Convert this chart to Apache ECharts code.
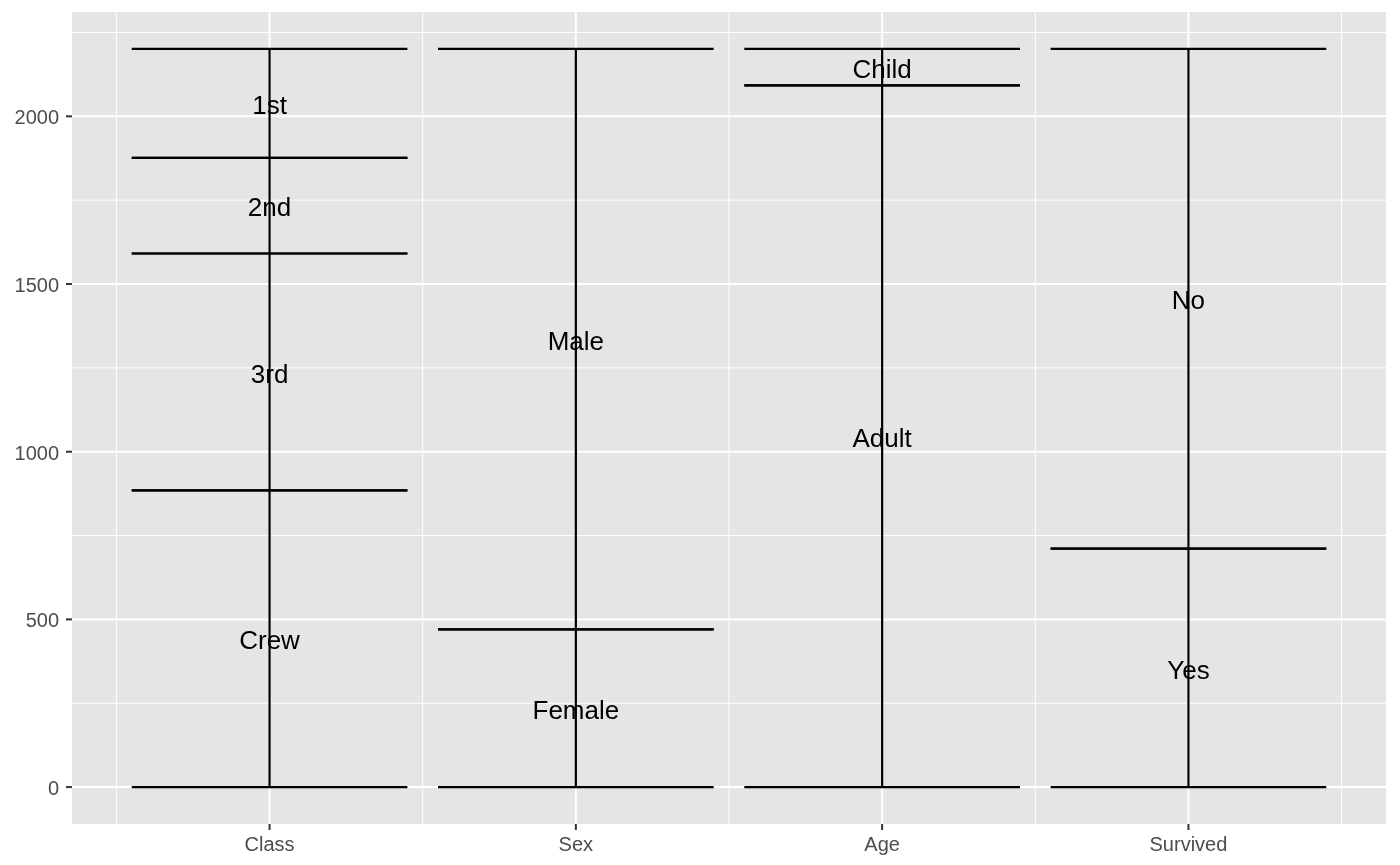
<!DOCTYPE html>
<html>
<head>
<meta charset="utf-8">
<script src="https://cdn.jsdelivr.net/npm/echarts@6/dist/echarts.min.js"></script>
<style>html,body{margin:0;padding:0;background:#fff}#c{width:1400px;height:865px}</style>
</head>
<body>
<div id="c"></div>
<script>
const categories = ['Class', 'Sex', 'Age', 'Survived'];
const classLevels = ['Crew', '3rd', '2nd', '1st'];
const classCounts = [885, 706, 285, 325];
const sexLevels = ['Female', 'Male'];
const sexCounts = [470, 1731];
const ageLevels = ['Adult', 'Child'];
const ageCounts = [2092, 109];
const survivedLevels = ['Yes', 'No'];
const survivedCounts = [711, 1490];
const yTicks = [0, 500, 1000, 1500, 2000];
const yMinorTicks = [250, 750, 1250, 1750, 2250];
const xMinorTicks = [0.5, 1.5, 2.5, 3.5, 4.5];

const FONT = '"Liberation Sans", Arial, Helvetica, sans-serif';
const HALF = 0.45;
const levelsByAxis = [classLevels, sexLevels, ageLevels, survivedLevels];
const countsByAxis = [classCounts, sexCounts, ageCounts, survivedCounts];

const strata = [];
levelsByAxis.forEach((levels, i) => {
  let acc = 0;
  levels.forEach((lab, j) => {
    const lo = acc; acc += countsByAxis[i][j];
    strata.push({ value: [i + 1, lo, acc], label: lab });
  });
});

const chart = echarts.init(document.getElementById('c'), null, { renderer: 'canvas' });

function line(p1, p2, color, w) {
  return { type: 'line', shape: { x1: p1[0], y1: p1[1], x2: p2[0], y2: p2[1] },
    style: { stroke: color, lineWidth: w, lineCap: 'butt' }, silent: true };
}

const xMin = 0.355, xMax = 4.645, yMin = -110.05, yMax = 2311.05;

chart.setOption({
  animation: false,
  grid: { left: 72, right: 14, top: 12, bottom: 41, show: true, backgroundColor: '#E5E5E5', borderWidth: 0 },
  xAxis: { type: 'value', min: xMin, max: xMax, show: false },
  yAxis: { type: 'value', min: yMin, max: yMax, show: false },
  series: [
    {
      type: 'custom', coordinateSystem: 'cartesian2d', clip: true, silent: true,
      data: [[1, 0]],
      renderItem: function (params, api) {
        const ch = [];
        yMinorTicks.forEach(v => ch.push(line(api.coord([xMin, v]), api.coord([xMax, v]), '#FFFFFF', 1)));
        xMinorTicks.forEach(v => ch.push(line(api.coord([v, yMin]), api.coord([v, yMax]), '#FFFFFF', 1)));
        yTicks.forEach(v => ch.push(line(api.coord([xMin, v]), api.coord([xMax, v]), '#FFFFFF', 2)));
        categories.forEach((c, i) => ch.push(line(api.coord([i + 1, yMin]), api.coord([i + 1, yMax]), '#FFFFFF', 2)));
        return { type: 'group', children: ch };
      }
    },
    {
      type: 'custom', coordinateSystem: 'cartesian2d', clip: false, silent: true,
      data: [[1, 0]],
      renderItem: function (params, api) {
        const ch = [];
        yTicks.forEach(v => {
          const p = api.coord([xMin, v]);
          ch.push(line([p[0] - 6, p[1]], p, '#333333', 2));
          ch.push({ type: 'text', x: p[0] - 13, y: p[1] + 2.5, style: { text: String(v), fill: '#4D4D4D',
            font: '20px ' + FONT, textAlign: 'right', textVerticalAlign: 'middle' } });
        });
        categories.forEach((c, i) => {
          const p = api.coord([i + 1, yMin]);
          ch.push(line(p, [p[0], p[1] + 6], '#333333', 2));
          ch.push({ type: 'text', x: p[0], y: p[1] + 21.5, style: { text: c, fill: '#4D4D4D',
            font: '20px ' + FONT, textAlign: 'center', textVerticalAlign: 'middle' } });
        });
        return { type: 'group', children: ch };
      }
    },
    {
      type: 'custom', coordinateSystem: 'cartesian2d', clip: false, silent: true,
      data: strata,
      renderItem: function (params, api) {
        const x = api.value(0), lo = api.value(1), hi = api.value(2);
        const lab = strata[params.dataIndex].label;
        const mid = api.coord([x, (lo + hi) / 2]);
        return { type: 'group', children: [
          line(api.coord([x - HALF, lo]), api.coord([x + HALF, lo]), '#000000', 2.2),
          line(api.coord([x - HALF, hi]), api.coord([x + HALF, hi]), '#000000', 2.2),
          line(api.coord([x, lo]), api.coord([x, hi]), '#000000', 2.2),
          { type: 'text', x: mid[0], y: mid[1] + 3.5, style: { text: lab, fill: '#000000',
            font: '26px ' + FONT, textAlign: 'center', textVerticalAlign: 'middle' } }
        ] };
      }
    }
  ]
});
</script>
</body>
</html>
